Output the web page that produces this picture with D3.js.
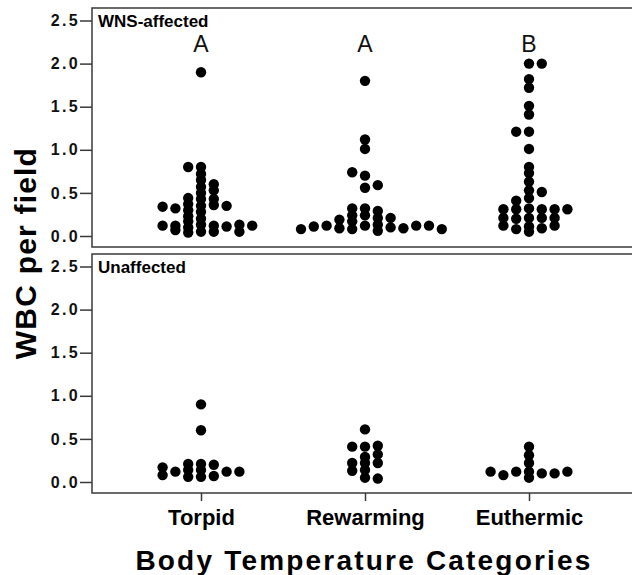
<!DOCTYPE html>
<html>
<head>
<meta charset="utf-8">
<script src="https://cdn.jsdelivr.net/npm/d3@7"></script>
<style>
  html, body { margin: 0; padding: 0; background: #fff; }
  svg { display: block; font-family: "Liberation Sans", Arial, Helvetica, sans-serif; }
</style>
</head>
<body>
<svg id="chart" width="632" height="575"></svg>
<script>
// ---------- data ----------
const categories = ["Torpid", "Rewarming", "Euthermic"];
const panelNames = ["WNS-affected", "Unaffected"];
const groupLetters = ["A", "A", "B"];
const yTickValues = [0, 0.5, 1.0, 1.5, 2.0, 2.5];
const xTitle = "Body Temperature Categories";
const yTitle = "WBC per field";

// WNS-affected panel: values and dot-plot stacking slot (column) for each point
const wnsTorpidValues = [1.9, 0.8, 0.72, 0.65, 0.57, 0.5, 0.43, 0.35, 0.28, 0.2, 0.13, 0.05,
  0.8, 0.44, 0.37, 0.3, 0.23, 0.17, 0.1, 0.04,
  0.6, 0.53, 0.43, 0.36, 0.12, 0.05,
  0.32, 0.12, 0.07,
  0.34, 0.12,
  0.35, 0.11,
  0.13, 0.05,
  0.12];
const wnsTorpidSlots = [0, 0, 0, 0, 0, 0, 0, 0, 0, 0, 0, 0,
  -1, -1, -1, -1, -1, -1, -1, -1,
  1, 1, 1, 1, 1, 1,
  -2, -2, -2,
  -3, -3,
  2, 2,
  3, 3,
  4];

const wnsRewarmingValues = [1.8, 1.12, 1.01, 0.7, 0.56, 0.32, 0.24, 0.12,
  0.74, 0.32, 0.24, 0.17, 0.08,
  0.59, 0.29, 0.21, 0.13, 0.06,
  0.19, 0.09,
  0.21, 0.1,
  0.12, 0.11, 0.08,
  0.09, 0.12, 0.12, 0.08];
const wnsRewarmingSlots = [0, 0, 0, 0, 0, 0, 0, 0,
  -1, -1, -1, -1, -1,
  1, 1, 1, 1, 1,
  -2, -2,
  2, 2,
  -3, -4, -5,
  3, 4, 5, 6];

const wnsEuthermicValues = [2.0, 1.82, 1.72, 1.51, 1.41, 1.21, 1.01, 0.8, 0.73, 0.63, 0.53, 0.44, 0.32, 0.21, 0.11, 0.05,
  2.0, 0.51, 0.31, 0.21, 0.09,
  1.21, 0.41, 0.31, 0.2, 0.08,
  0.31, 0.21, 0.12,
  0.31, 0.21, 0.12,
  0.31];
const wnsEuthermicSlots = [0, 0, 0, 0, 0, 0, 0, 0, 0, 0, 0, 0, 0, 0, 0, 0,
  1, 1, 1, 1, 1,
  -1, -1, -1, -1, -1,
  -2, -2, -2,
  2, 2, 2,
  3];

// Unaffected panel
const unaTorpidValues = [0.9, 0.6, 0.21, 0.14, 0.06,
  0.21, 0.14, 0.06,
  0.2, 0.07,
  0.12,
  0.17, 0.08,
  0.12, 0.12];
const unaTorpidSlots = [0, 0, 0, 0, 0,
  -1, -1, -1,
  1, 1,
  -2,
  -3, -3,
  2, 3];

const unaRewarmingValues = [0.61, 0.41, 0.29, 0.22, 0.14, 0.05,
  0.41, 0.22, 0.13,
  0.42, 0.32, 0.22, 0.04];
const unaRewarmingSlots = [0, 0, 0, 0, 0, 0,
  -1, -1, -1,
  1, 1, 1, 1];

const unaEuthermicValues = [0.41, 0.31, 0.22, 0.12, 0.05,
  0.12, 0.08, 0.12,
  0.1, 0.1, 0.12];
const unaEuthermicSlots = [0, 0, 0, 0, 0,
  -3, -2, -1,
  1, 2, 3];

const groups = [
  { panel: 0, category: "Torpid", values: wnsTorpidValues, slots: wnsTorpidSlots },
  { panel: 0, category: "Rewarming", values: wnsRewarmingValues, slots: wnsRewarmingSlots },
  { panel: 0, category: "Euthermic", values: wnsEuthermicValues, slots: wnsEuthermicSlots },
  { panel: 1, category: "Torpid", values: unaTorpidValues, slots: unaTorpidSlots },
  { panel: 1, category: "Rewarming", values: unaRewarmingValues, slots: unaRewarmingSlots },
  { panel: 1, category: "Euthermic", values: unaEuthermicValues, slots: unaEuthermicSlots }
];

// ---------- layout ----------
const svg = d3.select("#chart");
const frameLeft = 92, frameRight = 640;
const panelTops = [8, 254];
const panelHeight = 239;
const lineColor = "#3a3a3a";

const x = d3.scalePoint().domain(categories).range([201, 529]);
const slotX = d3.scaleLinear().domain([0, 1]).range([0, 12.8]);
const dotRadius = 5.2;

panelTops.forEach((top, p) => {
  const y = d3.scaleLinear().domain([0, 2.5]).range([top + 228, top + 12.5]);
  const g = svg.append("g");

  // frame
  g.append("rect")
    .attr("x", frameLeft).attr("y", top)
    .attr("width", frameRight - frameLeft).attr("height", panelHeight)
    .attr("fill", "none").attr("stroke", lineColor).attr("stroke-width", 1.5);

  // y axis
  const yAxis = g.append("g")
    .attr("transform", `translate(${frameLeft},0)`)
    .call(d3.axisLeft(y).tickValues(yTickValues).tickSize(12).tickPadding(3)
      .tickFormat(d3.format(".1f")));
  yAxis.select(".domain").remove();
  yAxis.selectAll(".tick line").attr("stroke", lineColor).attr("stroke-width", 1.5);
  yAxis.selectAll(".tick text")
    .attr("fill", "#111")
    .style("font-size", "16px").style("font-weight", "bold")
    .style("letter-spacing", "2.3px")
    .attr("x", -12);

  // panel label
  g.append("text")
    .attr("x", frameLeft + 6).attr("y", top + 18.5)
    .style("font-size", "17px").style("font-weight", "bold")
    .attr("fill", "#000")
    .text(panelNames[p]);

  // dots
  groups.filter(gr => gr.panel === p).forEach(gr => {
    const pts = gr.values.map((v, i) => ({ v, s: gr.slots[i] }));
    g.append("g").selectAll("circle")
      .data(pts)
      .join("circle")
      .attr("cx", d => x(gr.category) + slotX(d.s))
      .attr("cy", d => y(d.v))
      .attr("r", dotRadius)
      .attr("fill", "#000");
  });

  // significance letters (top panel only)
  if (p === 0) {
    g.append("g").selectAll("text")
      .data(categories)
      .join("text")
      .attr("x", d => x(d))
      .attr("y", top + 44)
      .attr("text-anchor", "middle")
      .style("font-size", "23px")
      .attr("fill", "#111")
      .text((d, i) => groupLetters[i]);
  }

  // x axis on bottom panel
  if (p === 1) {
    const xAxis = g.append("g")
      .attr("transform", `translate(0,${top + panelHeight})`)
      .call(d3.axisBottom(x).tickSize(8));
    xAxis.select(".domain").remove();
    xAxis.selectAll(".tick line").attr("stroke", lineColor).attr("stroke-width", 1.5);
    xAxis.selectAll(".tick text")
      .attr("y", 32).attr("dy", 0)
      .attr("fill", "#000")
      .style("font-size", "22px").style("font-weight", "bold");
  }
});

// axis titles
svg.append("text")
  .attr("transform", "translate(36,253) rotate(-90)")
  .attr("text-anchor", "middle")
  .style("font-size", "30px").style("font-weight", "bold")
  .style("letter-spacing", "1.2px")
  .attr("fill", "#000")
  .text(yTitle);

svg.append("text")
  .attr("x", 364).attr("y", 570)
  .attr("text-anchor", "middle")
  .style("font-size", "28px").style("font-weight", "bold")
  .style("letter-spacing", "2.2px")
  .attr("fill", "#000")
  .text(xTitle);
</script>
</body>
</html>
